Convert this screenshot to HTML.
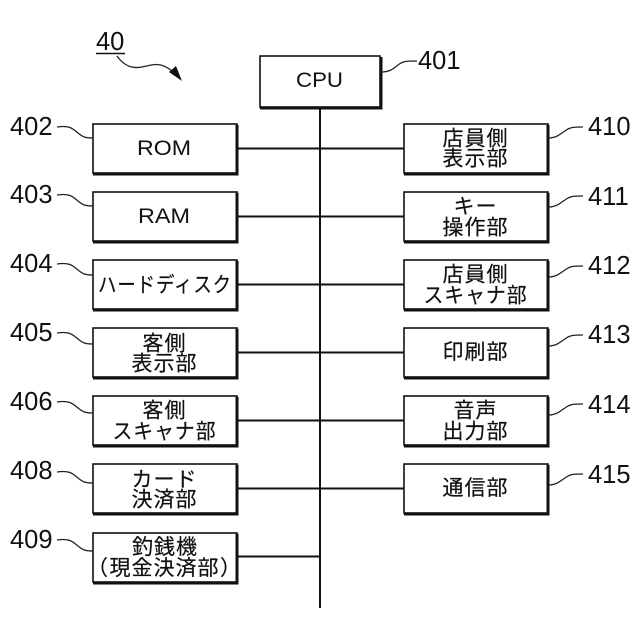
<!DOCTYPE html>
<html><head><meta charset="utf-8"><style>
html,body{margin:0;padding:0;background:#fff}
svg{display:block}
text{fill:#111}
.n{font:25.5px "Liberation Sans",sans-serif}
.l{font:21px "Liberation Sans",sans-serif}
.j{font:21px "Liberation Sans","Noto Sans CJK JP",sans-serif;letter-spacing:1px;text-anchor:middle;stroke:#111;stroke-width:.2}
.c{fill:none;stroke:#222;stroke-width:1.3}
.b{fill:#fff;stroke:#111;stroke-width:1.6}
.t{fill:none;stroke:#111;stroke-width:3}
.w{stroke:#111;stroke-width:2;fill:none}
</style></head><body>
<svg width="640" height="640" viewBox="0 0 640 640" xmlns="http://www.w3.org/2000/svg">
<defs>
<g id="L"><rect class="b" x="93" y="0" width="144" height="49"/><path class="t" d="M237 1V50H93"/></g>
<g id="R"><rect class="b" x="404" y="0" width="144" height="49"/><path class="t" d="M548 1V50H404"/></g>
<path id="CL" class="c" d="M57 0C70 -2 73 2 78 6C83 10 85 11 93 11"/>
<path id="CR" class="c" d="M548 11C557 11 560 7 565 4C570 0 574 0 583 0"/>
</defs>
<!-- title -->
<text class="n" x="96" y="50">40</text>
<path d="M96 53.5H125" stroke="#111" stroke-width="1.6"/>
<path class="c" d="M117 56C124 66 132 69 142 67C152 65 160 61 172 71"/>
<path d="M182 81L169 72L176 66Z" fill="#111"/>
<!-- bus -->
<path class="w" d="M320 107V608"/>
<path class="w" d="M237 148.5H404M237 216.5H404M237 284.5H404M237 352.5H404M237 420.5H404M237 488.5H404M237 556.5H320"/>
<!-- CPU -->
<rect class="b" x="260" y="56" width="120" height="51"/><path class="t" d="M381 57V108H260"/>
<text class="l" x="296" y="87" textLength="47" lengthAdjust="spacingAndGlyphs">CPU</text>
<path class="c" d="M381 72C390 72 393 69 398 65C403 61 407 61 417 61"/>
<text class="n" x="418" y="69">401</text>
<!-- left -->
<use href="#L" y="124"/><use href="#L" y="192"/><use href="#L" y="260"/><use href="#L" y="328"/><use href="#L" y="396"/><use href="#L" y="464"/><use href="#L" y="533"/>
<use href="#CL" y="127"/><use href="#CL" y="195"/><use href="#CL" y="264"/><use href="#CL" y="333"/><use href="#CL" y="402"/><use href="#CL" y="472"/><use href="#CL" y="540"/>
<text class="n" x="10" y="135">402</text><text class="n" x="10" y="203">403</text><text class="n" x="10" y="272">404</text><text class="n" x="10" y="341">405</text><text class="n" x="10" y="410">406</text><text class="n" x="10" y="479">408</text><text class="n" x="10" y="548">409</text>
<text class="l" x="137" y="155" textLength="54" lengthAdjust="spacingAndGlyphs">ROM</text>
<text class="l" x="138" y="223" textLength="52" lengthAdjust="spacingAndGlyphs">RAM</text>
<text class="j" x="165" y="292" textLength="134" lengthAdjust="spacingAndGlyphs">ハードディスク</text>
<text class="j" x="164.5" y="350.5">客側</text><text class="j" x="164.5" y="370.5">表示部</text>
<text class="j" x="164.5" y="417.5">客側</text><text class="j" x="164.5" y="438.5" textLength="104" lengthAdjust="spacingAndGlyphs">スキャナ部</text>
<text class="j" x="164.5" y="486.5">カード</text><text class="j" x="164.5" y="506.5">決済部</text>
<text class="j" x="165" y="554">釣銭機</text>
<text class="j" x="98" y="575">（</text><text class="j" x="164.5" y="575" textLength="110" lengthAdjust="spacingAndGlyphs">現金決済部</text><text class="j" x="231" y="575">）</text>
<!-- right -->
<use href="#R" y="124"/><use href="#R" y="192"/><use href="#R" y="260"/><use href="#R" y="328"/><use href="#R" y="396"/><use href="#R" y="464"/>
<use href="#CR" y="127"/><use href="#CR" y="196"/><use href="#CR" y="266"/><use href="#CR" y="335"/><use href="#CR" y="404"/><use href="#CR" y="474"/>
<text class="n" x="588" y="135">410</text><text class="n" x="588" y="205">411</text><text class="n" x="588" y="274">412</text><text class="n" x="588" y="343">413</text><text class="n" x="588" y="413">414</text><text class="n" x="588" y="483">415</text>
<text class="j" x="475.5" y="145.5">店員側</text><text class="j" x="475.5" y="165.5">表示部</text>
<text class="j" x="475.5" y="213.5">キー</text><text class="j" x="475.5" y="234.5">操作部</text>
<text class="j" x="475.5" y="281.5">店員側</text><text class="j" x="475.5" y="302.5" textLength="104" lengthAdjust="spacingAndGlyphs">スキャナ部</text>
<text class="j" x="475.5" y="359">印刷部</text>
<text class="j" x="475.5" y="417.5">音声</text><text class="j" x="475.5" y="438.5">出力部</text>
<text class="j" x="475.5" y="495">通信部</text>
</svg>
</body></html>
